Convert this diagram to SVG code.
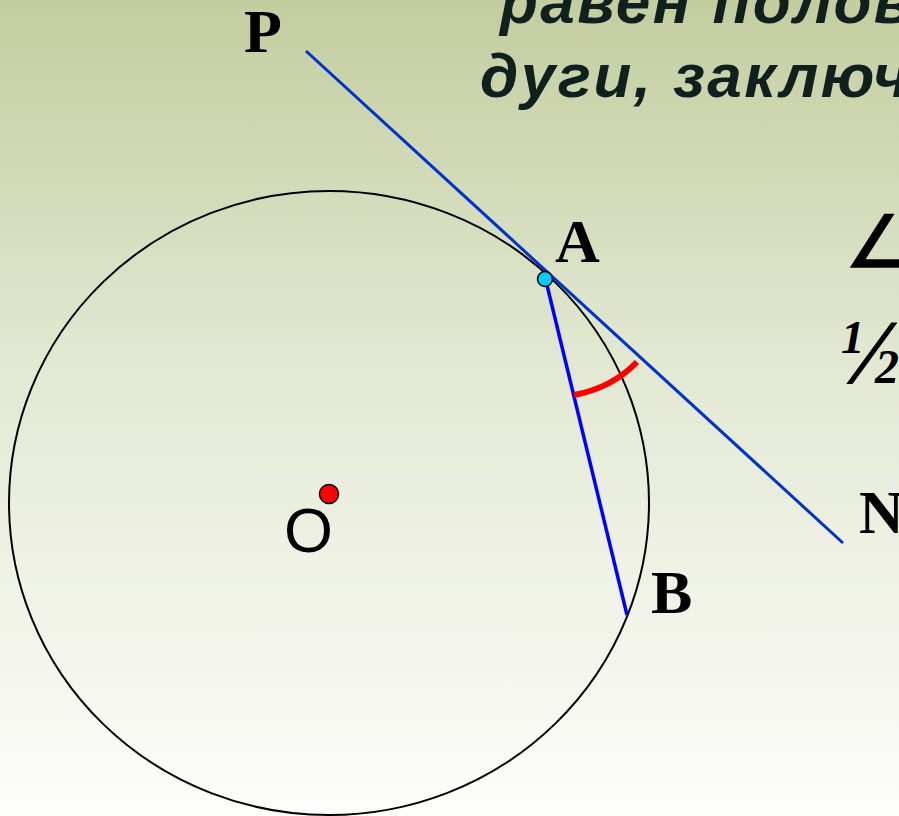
<svg xmlns="http://www.w3.org/2000/svg" width="899" height="816" viewBox="0 0 899 816">
<defs>
<linearGradient id="bg" x1="0" y1="0" x2="0" y2="1">
<stop offset="0" stop-color="#c3cd9f"/>
<stop offset="0.45" stop-color="#e3e8d3"/>
<stop offset="1" stop-color="#fdfdfb"/>
</linearGradient>
<style>
.lbl{font-family:"Liberation Serif",serif;font-weight:bold;fill:#000}
.head{font-family:"Liberation Sans",sans-serif;font-weight:bold;font-style:italic;fill:#10201f;letter-spacing:2.5px}
.blue{stroke:#0033cc;stroke-width:3;fill:none}
</style>
</defs>
<rect width="899" height="816" fill="url(#bg)"/>
<text class="head" x="500" y="23" font-size="62">равен полов</text>
<text class="head" x="480" y="97" font-size="62">дуги, заключ</text>
<g id="circle">
<ellipse cx="329" cy="503" rx="320" ry="312" fill="none" stroke="#000" stroke-width="2"/>
</g>
<g id="connectors">
<line class="blue" x1="306" y1="51" x2="843" y2="543"/>
<line x1="546" y1="281" x2="627" y2="615" stroke="#0000ff" stroke-width="3.5"/>
<path d="M574 395 Q612 388 637 362" fill="none" stroke="#ff0000" stroke-width="6"/>
</g>
<g id="O">
<circle cx="329" cy="494" r="9.5" fill="#ff0000" stroke="#000" stroke-width="1.5"/>
<text x="284" y="552" font-family="Liberation Sans,sans-serif" font-size="63" fill="#000">O</text>
</g>
<g id="A">
<circle cx="545" cy="279" r="7.5" fill="#00ccff" stroke="#000" stroke-width="1.5"/>
<text class="lbl" x="555" y="262" font-size="62">A</text>
</g>
<g id="P"><text class="lbl" x="244" y="52" font-size="62">P</text></g>
<g id="N"><text class="lbl" x="859" y="533" font-size="62">N</text></g>
<g id="B"><text class="lbl" x="651" y="613" font-size="62">B</text></g>
<g id="formula">
<text x="845" y="267" font-family="DejaVu Sans,sans-serif" font-size="72" fill="#000" stroke="#000" stroke-width="1.5">∠</text>
<text class="lbl" x="841" y="353" font-size="47" font-style="italic">1</text>
<text class="lbl" transform="translate(852 383) skewX(-12)" x="0" y="0" font-size="92" font-style="italic">/</text>
<text class="lbl" x="875" y="383" font-size="48" font-style="italic">2</text>
</g>
</svg>
